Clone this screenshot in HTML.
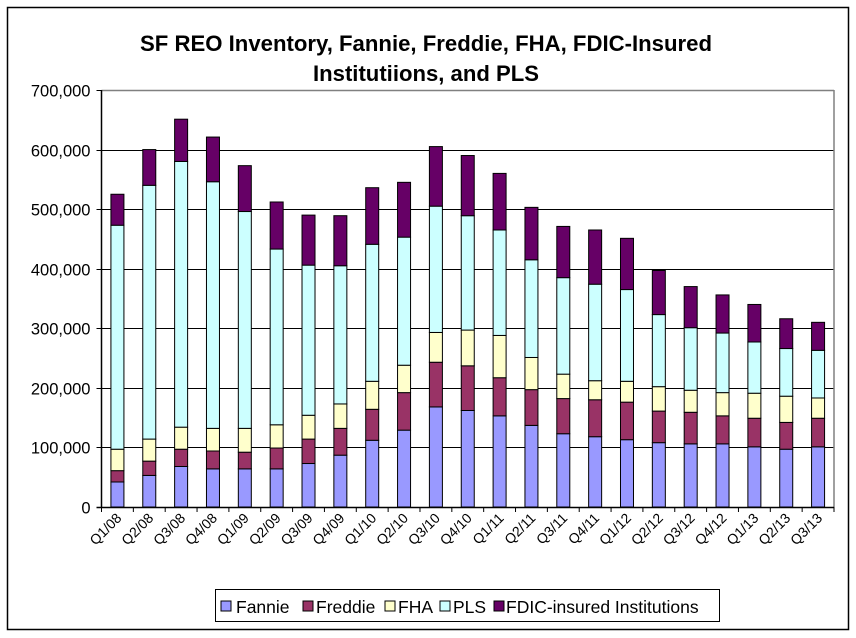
<!DOCTYPE html>
<html><head><meta charset="utf-8"><style>
body{margin:0;background:#fff;}
svg{display:block;font-family:"Liberation Sans",Arial,sans-serif;}
</style></head><body>
<svg id="chart" width="856" height="638" viewBox="0 0 856 638">
<rect x="7.5" y="7.5" width="841" height="622" fill="#fff" stroke="#000" stroke-width="1.5"/>
<text x="426" y="51" text-anchor="middle" font-size="22" font-weight="bold" textLength="572" lengthAdjust="spacingAndGlyphs">SF REO Inventory, Fannie, Freddie, FHA, FDIC-Insured</text>
<text x="426" y="81" text-anchor="middle" font-size="22" font-weight="bold" textLength="226" lengthAdjust="spacingAndGlyphs">Institutiions, and PLS</text>
<g id="plot"></g>
<g>
<rect x="215.5" y="589.5" width="504" height="32" fill="#fff" stroke="#000"/>
<rect x="221" y="601" width="10" height="10" fill="#9999ff" stroke="#000"/>
<text x="236" y="613" font-size="17.5">Fannie</text>
<rect x="303" y="601" width="10" height="10" fill="#993366" stroke="#000"/>
<text x="316" y="613" font-size="17.5">Freddie</text>
<rect x="385" y="601" width="10" height="10" fill="#ffffcc" stroke="#000"/>
<text x="398" y="613" font-size="17.5">FHA</text>
<rect x="440" y="601" width="10" height="10" fill="#ccffff" stroke="#000"/>
<text x="453" y="613" font-size="17.5">PLS</text>
<rect x="494" y="601" width="10" height="10" fill="#660066" stroke="#000"/>
<text x="506" y="613" font-size="17.5">FDIC-insured Institutions</text>
</g>
</svg>
<script>
const categories = ["Q1/08","Q2/08","Q3/08","Q4/08","Q1/09","Q2/09","Q3/09","Q4/09","Q1/10","Q2/10","Q3/10","Q4/10","Q1/11","Q2/11","Q3/11","Q4/11","Q1/12","Q2/12","Q3/12","Q4/12","Q1/13","Q2/13","Q3/13"];
const fannie = [42000,53000,68000,64000,64000,64000,73000,87000,112000,129000,168000,162000,153000,137000,123000,118000,113000,108000,106000,106000,101000,97000,101000];
const freddie = [19000,24000,29000,30000,28000,35000,41000,45000,52000,63000,75000,75000,64000,60000,59000,62000,63000,53000,53000,47000,48000,45000,48000];
const fha = [36000,37000,37000,38000,40000,39000,40000,41000,47000,46000,50000,60000,71000,54000,41000,32000,35000,41000,37000,39000,42000,44000,34000];
const pls = [376000,426000,446000,414000,364000,295000,252000,232000,230000,215000,212000,192000,177000,164000,162000,162000,154000,121000,105000,100000,86000,80000,80000];
const fdic = [52000,60000,71000,75000,77000,79000,84000,84000,95000,92000,100000,101000,95000,88000,86000,91000,86000,74000,69000,64000,63000,50000,47000];
const yTicks = [0,100000,200000,300000,400000,500000,600000,700000];
const yTickLabels = ["0","100,000","200,000","300,000","400,000","500,000","600,000","700,000"];

const NS = "http://www.w3.org/2000/svg";
const L = 101.5, R = 834, T = 90, B = 507, YMAX = 700000;
const bw = (R - L) / categories.length;
const barW = 13;
function y(v){ return B - v / YMAX * (B - T); }
function x(i){ return L + bw * i + bw / 2; }
const g = document.getElementById('plot');
function mk(tag, attrs){ const e = document.createElementNS(NS, tag); for (const k in attrs) e.setAttribute(k, attrs[k]); g.appendChild(e); return e; }

yTicks.forEach((t, i) => {
  const yy = Math.round(y(t)) + 0.5;
  if (t > 0 && t < YMAX) {
    const gl = mk('line', {x1: L, x2: R, y1: yy, y2: yy, stroke: '#000', 'stroke-width': 1});
    
    
  }
  const tk = mk('line', {x1: L - 5, x2: L, y1: yy, y2: yy, stroke: '#000'});
  
  
  const lb = mk('text', {x: L - 11, y: yy + 6, 'text-anchor': 'end', 'font-size': 16.5});
  lb.textContent = yTickLabels[i];
  
  
});
const topLine = mk('line', {x1: L, x2: R, y1: T + 0.5, y2: T + 0.5, stroke: '#808080', 'stroke-width': 1.5});


const rightLine = mk('line', {x1: R, x2: R, y1: T, y2: B, stroke: '#808080', 'stroke-width': 1.5});



const series = [[fannie,'#9999ff','fannie'],[freddie,'#993366','freddie'],[fha,'#ffffcc','fha'],[pls,'#ccffff','pls'],[fdic,'#660066','fdic']];
categories.forEach((c, i) => {
  let base = 0;
  series.forEach(s => {
    const v = s[0][i];
    const y0 = y(base), y1 = y(base + v);
    const r = mk('rect', {x: x(i) - barW / 2, y: y1, width: barW, height: y0 - y1, fill: s[1], stroke: '#000', 'stroke-width': 1});
    
    
    base += v;
  });
  const tx = L + bw * i;
  const tk = mk('line', {x1: tx, x2: tx, y1: B, y2: B + 5, stroke: '#000'});
  
  
  const lb = mk('text', {x: 0, y: 0, 'text-anchor': 'end', 'font-size': 14, transform: 'translate(' + (x(i) + 5) + ',' + (B + 12) + ') rotate(-45)'});
  lb.textContent = c;
  
  
});
const lastTick = mk('line', {x1: R, x2: R, y1: B, y2: B + 5, stroke: '#000'});


const xAxis = mk('line', {x1: L - 5, x2: R, y1: B + 0.5, y2: B + 0.5, stroke: '#000', 'stroke-width': 1.5});


const yAxis = mk('line', {x1: L, x2: L, y1: T, y2: B, stroke: '#000', 'stroke-width': 1.5});


</script>
</body></html>
